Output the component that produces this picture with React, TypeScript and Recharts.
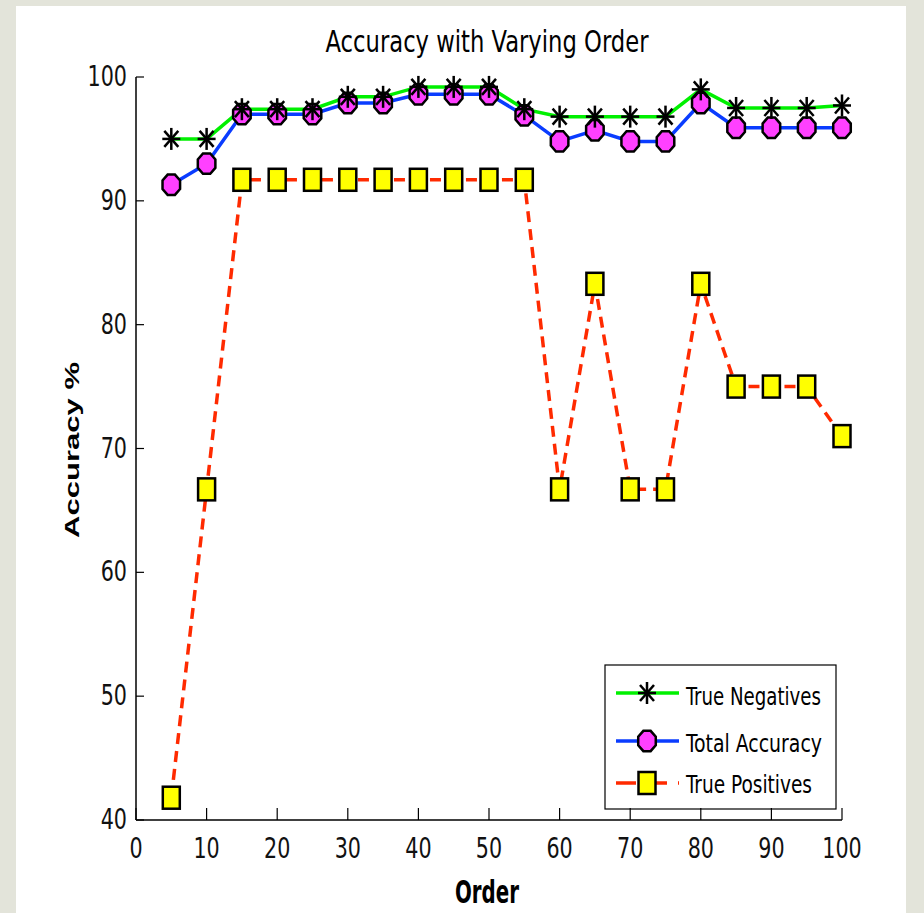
import { LineChart, Line, XAxis, YAxis } from 'recharts'

// order values on the x axis
const orders = [5, 10, 15, 20, 25, 30, 35, 40, 45, 50, 55, 60, 65, 70, 75, 80, 85, 90, 95, 100]
const trueNegatives = [95.0, 95.0, 97.4, 97.4, 97.4, 98.4, 98.4, 99.2, 99.2, 99.2, 97.4, 96.8, 96.8, 96.8, 96.8, 99.0, 97.5, 97.5, 97.5, 97.7]
const totalAccuracy = [91.3, 93.0, 97.0, 97.0, 97.0, 97.9, 97.9, 98.6, 98.6, 98.6, 96.9, 94.8, 95.7, 94.8, 94.8, 97.9, 95.9, 95.9, 95.9, 95.9]
const truePositives = [41.8, 66.7, 91.7, 91.7, 91.7, 91.7, 91.7, 91.7, 91.7, 91.7, 91.7, 66.7, 83.3, 66.7, 66.7, 83.3, 75.0, 75.0, 75.0, 71.0]
const xTicks = [0, 10, 20, 30, 40, 50, 60, 70, 80, 90, 100]
const yTicks = [40, 50, 60, 70, 80, 90, 100]

const data = orders.map((o, i) => ({ order: o, tn: trueNegatives[i], ta: totalAccuracy[i], tp: truePositives[i] }))

const NARROW = '"Liberation Sans Narrow", "DejaVu Sans Condensed", "Liberation Sans", sans-serif'
const GREEN = '#00f000'
const BLUE = '#0a3cff'
const RED = '#ff2a00'
const MAGENTA = '#ff40ff'
const YELLOW = '#ffff00'

const Star = ({ cx, cy }: { cx: number; cy: number }) => (
  <g stroke="#000" strokeWidth={2.5}>
    <line x1={cx} y1={cy - 11} x2={cx} y2={cy + 11} />
    <line x1={cx - 9} y1={cy} x2={cx + 9} y2={cy} />
    <line x1={cx - 7} y1={cy - 8} x2={cx + 7} y2={cy + 8} />
    <line x1={cx - 7} y1={cy + 8} x2={cx + 7} y2={cy - 8} />
  </g>
)

const Octagon = ({ cx, cy }: { cx: number; cy: number }) => {
  const pts = [0, 1, 2, 3, 4, 5, 6, 7]
    .map(k => {
      const a = (Math.PI / 8) * (2 * k + 1)
      return `${cx + 9.5 * Math.cos(a)},${cy + 11 * Math.sin(a)}`
    })
    .join(' ')
  return <polygon points={pts} fill={MAGENTA} stroke="#000" strokeWidth={2.5} />
}

const Box = ({ cx, cy }: { cx: number; cy: number }) => (
  <rect x={cx - 8.5} y={cy - 11} width={17} height={22} fill={YELLOW} stroke="#000" strokeWidth={2.5} />
)

const XTick = ({ x, y, payload }: any) => (
  <g>
    <line x1={x} y1={y} x2={x} y2={y - 12} stroke="#000" strokeWidth={1.2} />
    <text transform={`translate(${x},${y + 38}) scale(1,1.2)`} textAnchor="middle" fontSize={23} fontFamily={NARROW} fill="#111">
      {payload.value}
    </text>
  </g>
)

const YTick = ({ x, y, payload }: any) => (
  <g>
    <line x1={x} y1={y} x2={x + 8} y2={y} stroke="#000" strokeWidth={1.2} />
    <text transform={`translate(${x - 9},${y + 9}) scale(1,1.2)`} textAnchor="end" fontSize={23} fontFamily={NARROW} fill="#111">
      {payload.value}
    </text>
  </g>
)

const legendRows = [
  { name: 'True Negatives', y: 693, base: 705, len: 135, color: GREEN, dash: undefined, Marker: Star },
  { name: 'Total Accuracy', y: 741, base: 752, len: 136, color: BLUE, dash: undefined, Marker: Octagon },
  { name: 'True Positives', y: 783, base: 793, len: 126, color: RED, dash: '20 11', Marker: Box },
]

const Decor = () => (
  <g>
    <text transform="translate(487,52) scale(1,1.2)" textAnchor="middle" fontSize={25} fontFamily={NARROW} textLength={323} lengthAdjust="spacingAndGlyphs" fill="#000">
      Accuracy with Varying Order
    </text>
    <text transform="translate(487,903) scale(1,1.2)" textAnchor="middle" fontSize={26} fontWeight="bold" fontFamily={NARROW} textLength={64} lengthAdjust="spacingAndGlyphs" fill="#000">
      Order
    </text>
    <text transform="translate(79,450) rotate(-90)" textAnchor="middle" fontSize={21} fontWeight="bold" fontFamily='"Liberation Sans", Arial, sans-serif' textLength={176} lengthAdjust="spacingAndGlyphs" fill="#000">
      Accuracy %
    </text>
    <rect x={605} y={665} width={231} height={144} fill="#fff" stroke="#000" strokeWidth={1.2} />
    {legendRows.map(r => (
      <g key={r.name}>
        <line x1={616} y1={r.y} x2={679} y2={r.y} stroke={r.color} strokeWidth={3.5} strokeDasharray={r.dash} />
        <r.Marker cx={647} cy={r.y} />
        <text transform={`translate(686,${r.base}) scale(1,1.15)`} fontSize={22} fontFamily={NARROW} textLength={r.len} lengthAdjust="spacingAndGlyphs" fill="#000">
          {r.name}
        </text>
      </g>
    ))}
  </g>
)

export default function App() {
  return (
    <div style={{ position: 'absolute', left: 0, top: 0, width: 924, height: 913, background: '#e3e4da', overflow: 'hidden' }}>
      <div style={{ position: 'absolute', left: 16, top: 6, width: 890, height: 907, background: '#fff' }} />
      <div style={{ position: 'absolute', left: 0, top: 0 }}>
        <LineChart width={924} height={913} data={data} margin={{ top: 77, right: 82, bottom: 53, left: 76 }}>
          <XAxis
            dataKey="order"
            type="number"
            domain={[0, 100]}
            ticks={xTicks}
            height={40}
            tickSize={0}
            tickMargin={0}
            tick={<XTick />}
            axisLine={{ stroke: '#000', strokeWidth: 1.5 }}
            tickLine={false}
          />
          <YAxis
            type="number"
            domain={[40, 100]}
            ticks={yTicks}
            width={60}
            tickSize={0}
            tickMargin={0}
            tick={<YTick />}
            axisLine={{ stroke: '#000', strokeWidth: 1.5 }}
            tickLine={false}
          />
          <Line
            dataKey="tp"
            stroke={RED}
            strokeWidth={3.5}
            strokeDasharray="11 7"
            isAnimationActive={false}
            dot={(p: any) => <Box key={p.index} cx={p.cx} cy={p.cy} />}
            activeDot={false}
          />
          <Line
            dataKey="ta"
            stroke={BLUE}
            strokeWidth={3.5}
            isAnimationActive={false}
            dot={(p: any) => <Octagon key={p.index} cx={p.cx} cy={p.cy} />}
            activeDot={false}
          />
          <Line
            dataKey="tn"
            stroke={GREEN}
            strokeWidth={3.5}
            isAnimationActive={false}
            dot={(p: any) => <Star key={p.index} cx={p.cx} cy={p.cy} />}
            activeDot={false}
          />
          <Decor />
        </LineChart>
      </div>
    </div>
  )
}
